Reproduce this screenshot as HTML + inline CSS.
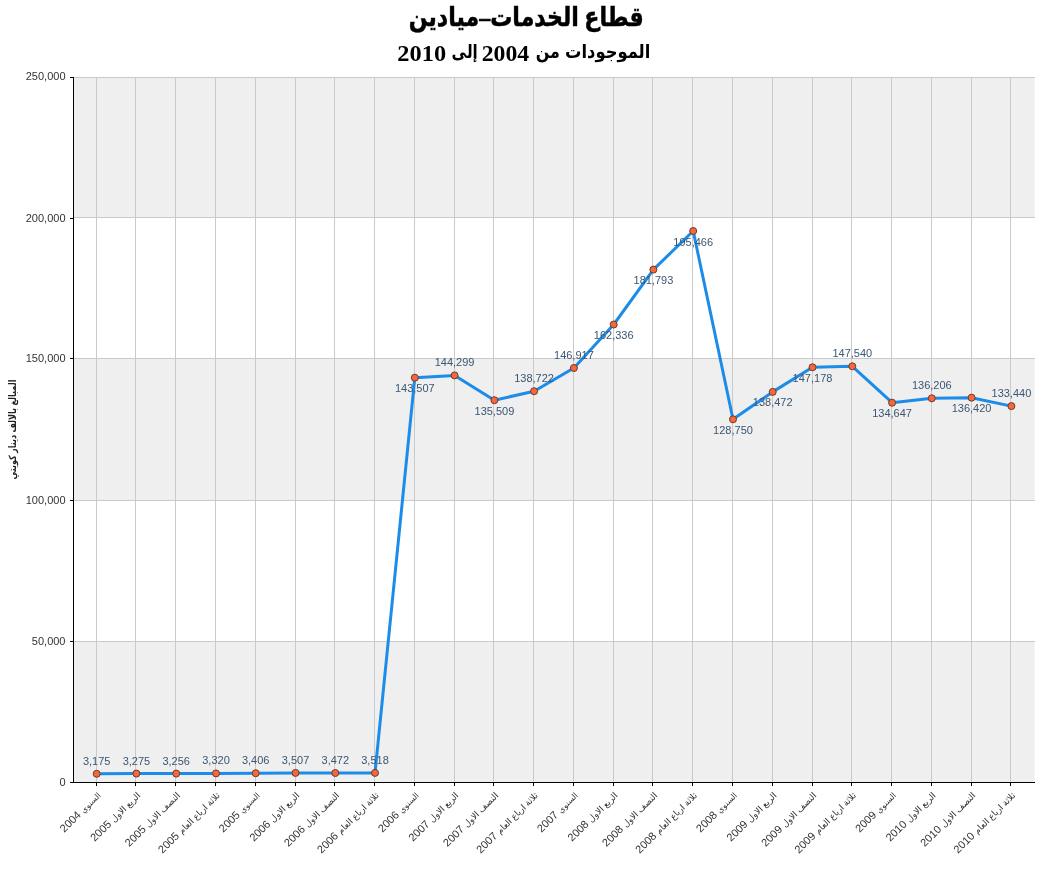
<!DOCTYPE html>
<html lang="ar"><head><meta charset="utf-8"><title>قطاع الخدمات–ميادين</title>
<style>
html,body{margin:0;padding:0;background:#fff;}
body{width:1047px;height:874px;overflow:hidden;}
svg{display:block;}
.ax{font-family:"Liberation Sans","DejaVu Sans",sans-serif;font-size:11px;fill:#333;}
.dl{font-family:"Liberation Sans","DejaVu Sans",sans-serif;font-size:11px;fill:#3b5672;text-anchor:middle;}
.cl{font-family:"Liberation Sans","DejaVu Sans",sans-serif;font-size:11px;fill:#333;text-anchor:end;}
.cl .ar{font-size:8.8px;}
.cl .s{font-size:8px;}
.t1{font-family:"Liberation Serif","DejaVu Sans",serif;font-weight:bold;font-size:29px;fill:#000;text-anchor:middle;stroke:#000;stroke-width:0.5px;}
.t2{font-family:"Liberation Serif","DejaVu Sans",serif;font-weight:bold;font-size:23px;fill:#000;text-anchor:middle;}
.yt{font-family:"Liberation Sans","DejaVu Sans",sans-serif;font-weight:bold;font-size:10px;fill:#222;text-anchor:middle;}
</style></head><body>
<svg width="1047" height="874" viewBox="0 0 1047 874">
<rect x="0" y="0" width="1047" height="874" fill="#fff"/>
<g>
<text class="t1" transform="translate(408.67,25.5) scale(0.834,1)" style="font-size:26.5px;text-anchor:start">قطاع الخدمات–ميادين</text>
</g>
<g>
<text class="t2" transform="translate(565.02,58.0) scale(0.860,1)" style="font-size:19px;text-anchor:start">الموجودات</text>
<text class="t2" transform="translate(535.75,58.0) scale(0.837,1)" style="font-size:19px;text-anchor:start">من</text>
<text class="t2" transform="translate(481.65,61.0) scale(0.990,1)" style="font-size:24px;text-anchor:start">2004</text>
<text class="t2" transform="translate(451.59,58.0) scale(0.798,1)" style="font-size:19px;text-anchor:start">إلى</text>
<text class="t2" transform="translate(397.32,61.0) scale(1.016,1)" style="font-size:24px;text-anchor:start">2010</text>
</g>
<rect x="74" y="77" width="960.5" height="140" fill="#efefef"/>
<rect x="74" y="358" width="960.5" height="142" fill="#efefef"/>
<rect x="74" y="641" width="960.5" height="141" fill="#efefef"/>
<g stroke="#cacaca" stroke-width="1" shape-rendering="crispEdges">
<line x1="74" y1="77.5" x2="1035" y2="77.5"/>
<line x1="74" y1="217.5" x2="1035" y2="217.5"/>
<line x1="74" y1="358.5" x2="1035" y2="358.5"/>
<line x1="74" y1="500.5" x2="1035" y2="500.5"/>
<line x1="74" y1="641.5" x2="1035" y2="641.5"/>
<line x1="96.5" y1="77" x2="96.5" y2="782"/>
<line x1="135.5" y1="77" x2="135.5" y2="782"/>
<line x1="175.5" y1="77" x2="175.5" y2="782"/>
<line x1="215.5" y1="77" x2="215.5" y2="782"/>
<line x1="255.5" y1="77" x2="255.5" y2="782"/>
<line x1="295.5" y1="77" x2="295.5" y2="782"/>
<line x1="334.5" y1="77" x2="334.5" y2="782"/>
<line x1="374.5" y1="77" x2="374.5" y2="782"/>
<line x1="414.5" y1="77" x2="414.5" y2="782"/>
<line x1="454.5" y1="77" x2="454.5" y2="782"/>
<line x1="493.5" y1="77" x2="493.5" y2="782"/>
<line x1="533.5" y1="77" x2="533.5" y2="782"/>
<line x1="573.5" y1="77" x2="573.5" y2="782"/>
<line x1="613.5" y1="77" x2="613.5" y2="782"/>
<line x1="652.5" y1="77" x2="652.5" y2="782"/>
<line x1="692.5" y1="77" x2="692.5" y2="782"/>
<line x1="732.5" y1="77" x2="732.5" y2="782"/>
<line x1="772.5" y1="77" x2="772.5" y2="782"/>
<line x1="812.5" y1="77" x2="812.5" y2="782"/>
<line x1="851.5" y1="77" x2="851.5" y2="782"/>
<line x1="891.5" y1="77" x2="891.5" y2="782"/>
<line x1="931.5" y1="77" x2="931.5" y2="782"/>
<line x1="971.5" y1="77" x2="971.5" y2="782"/>
<line x1="1010.5" y1="77" x2="1010.5" y2="782"/>
</g>
<g stroke="#000" stroke-width="1" shape-rendering="crispEdges">
<line x1="73.5" y1="77" x2="73.5" y2="783"/>
<line x1="70" y1="782.5" x2="1035" y2="782.5"/>
<line x1="70" y1="77.5" x2="74" y2="77.5"/>
<line x1="70" y1="218.5" x2="74" y2="218.5"/>
<line x1="70" y1="358.5" x2="74" y2="358.5"/>
<line x1="70" y1="500.5" x2="74" y2="500.5"/>
<line x1="70" y1="641.5" x2="74" y2="641.5"/>
<line x1="96.5" y1="783" x2="96.5" y2="786"/>
<line x1="135.5" y1="783" x2="135.5" y2="786"/>
<line x1="175.5" y1="783" x2="175.5" y2="786"/>
<line x1="215.5" y1="783" x2="215.5" y2="786"/>
<line x1="255.5" y1="783" x2="255.5" y2="786"/>
<line x1="295.5" y1="783" x2="295.5" y2="786"/>
<line x1="334.5" y1="783" x2="334.5" y2="786"/>
<line x1="374.5" y1="783" x2="374.5" y2="786"/>
<line x1="414.5" y1="783" x2="414.5" y2="786"/>
<line x1="454.5" y1="783" x2="454.5" y2="786"/>
<line x1="493.5" y1="783" x2="493.5" y2="786"/>
<line x1="533.5" y1="783" x2="533.5" y2="786"/>
<line x1="573.5" y1="783" x2="573.5" y2="786"/>
<line x1="613.5" y1="783" x2="613.5" y2="786"/>
<line x1="652.5" y1="783" x2="652.5" y2="786"/>
<line x1="692.5" y1="783" x2="692.5" y2="786"/>
<line x1="732.5" y1="783" x2="732.5" y2="786"/>
<line x1="772.5" y1="783" x2="772.5" y2="786"/>
<line x1="812.5" y1="783" x2="812.5" y2="786"/>
<line x1="851.5" y1="783" x2="851.5" y2="786"/>
<line x1="891.5" y1="783" x2="891.5" y2="786"/>
<line x1="931.5" y1="783" x2="931.5" y2="786"/>
<line x1="971.5" y1="783" x2="971.5" y2="786"/>
<line x1="1010.5" y1="783" x2="1010.5" y2="786"/>
</g>
<text class="ax" x="65.5" y="79.7" text-anchor="end">250,000</text>
<text class="ax" x="65.5" y="221.5" text-anchor="end">200,000</text>
<text class="ax" x="65.5" y="361.5" text-anchor="end">150,000</text>
<text class="ax" x="65.5" y="503.5" text-anchor="end">100,000</text>
<text class="ax" x="65.5" y="644.5" text-anchor="end">50,000</text>
<text class="ax" x="65.5" y="785.5" text-anchor="end">0</text>
<text class="yt" transform="translate(15.8,429.5) rotate(-90) scale(0.81,1)" direction="rtl">المبالغ بالالف دينار كويتي</text>
<polyline points="96.7,773.8 136.4,773.6 176.2,773.6 216.0,773.4 255.7,773.2 295.5,772.9 335.3,773.0 375.0,772.9 414.8,377.7 454.6,375.4 494.4,400.2 534.1,391.2 573.9,368.0 613.7,324.5 653.4,269.6 693.2,231.0 733.0,419.3 772.7,391.9 812.5,367.3 852.3,366.3 892.1,402.7 931.8,398.3 971.6,397.7 1011.4,406.1" fill="none" stroke="#1c8ce8" stroke-width="3" stroke-linejoin="round" stroke-linecap="round"/>
<g fill="#f4683c" stroke="#6e3a2a" stroke-width="1">
<circle cx="96.7" cy="773.8" r="3.5"/>
<circle cx="136.4" cy="773.6" r="3.5"/>
<circle cx="176.2" cy="773.6" r="3.5"/>
<circle cx="216.0" cy="773.4" r="3.5"/>
<circle cx="255.7" cy="773.2" r="3.5"/>
<circle cx="295.5" cy="772.9" r="3.5"/>
<circle cx="335.3" cy="773.0" r="3.5"/>
<circle cx="375.0" cy="772.9" r="3.5"/>
<circle cx="414.8" cy="377.7" r="3.5"/>
<circle cx="454.6" cy="375.4" r="3.5"/>
<circle cx="494.4" cy="400.2" r="3.5"/>
<circle cx="534.1" cy="391.2" r="3.5"/>
<circle cx="573.9" cy="368.0" r="3.5"/>
<circle cx="613.7" cy="324.5" r="3.5"/>
<circle cx="653.4" cy="269.6" r="3.5"/>
<circle cx="693.2" cy="231.0" r="3.5"/>
<circle cx="733.0" cy="419.3" r="3.5"/>
<circle cx="772.7" cy="391.9" r="3.5"/>
<circle cx="812.5" cy="367.3" r="3.5"/>
<circle cx="852.3" cy="366.3" r="3.5"/>
<circle cx="892.1" cy="402.7" r="3.5"/>
<circle cx="931.8" cy="398.3" r="3.5"/>
<circle cx="971.6" cy="397.7" r="3.5"/>
<circle cx="1011.4" cy="406.1" r="3.5"/>
</g>
<text class="dl" x="96.7" y="764.7">3,175</text>
<text class="dl" x="136.4" y="764.5">3,275</text>
<text class="dl" x="176.2" y="764.5">3,256</text>
<text class="dl" x="216.0" y="764.3">3,320</text>
<text class="dl" x="255.7" y="764.1">3,406</text>
<text class="dl" x="295.5" y="763.8">3,507</text>
<text class="dl" x="335.3" y="763.9">3,472</text>
<text class="dl" x="375.0" y="763.8">3,518</text>
<text class="dl" x="414.8" y="392.2">143,507</text>
<text class="dl" x="454.6" y="366.3">144,299</text>
<text class="dl" x="494.4" y="414.7">135,509</text>
<text class="dl" x="534.1" y="382.1">138,722</text>
<text class="dl" x="573.9" y="358.9">146,917</text>
<text class="dl" x="613.7" y="339.0">162,336</text>
<text class="dl" x="653.4" y="284.1">181,793</text>
<text class="dl" x="693.2" y="245.5">195,466</text>
<text class="dl" x="733.0" y="433.8">128,750</text>
<text class="dl" x="772.7" y="406.4">138,472</text>
<text class="dl" x="812.5" y="381.8">147,178</text>
<text class="dl" x="852.3" y="357.2">147,540</text>
<text class="dl" x="892.1" y="417.2">134,647</text>
<text class="dl" x="931.8" y="389.2">136,206</text>
<text class="dl" x="971.6" y="412.2">136,420</text>
<text class="dl" x="1011.4" y="397.0">133,440</text>
<text class="cl" transform="translate(101.2,796.0) rotate(-45)"><tspan class="ar s">السنوي</tspan> 2004</text>
<text class="cl" transform="translate(140.9,796.0) rotate(-45)"><tspan class="ar">الربع الاول</tspan> 2005</text>
<text class="cl" transform="translate(180.7,796.0) rotate(-45)"><tspan class="ar">النصف الاول</tspan> 2005</text>
<text class="cl" transform="translate(220.5,796.0) rotate(-45)"><tspan class="ar">ثلاثة ارباع العام</tspan> 2005</text>
<text class="cl" transform="translate(260.2,796.0) rotate(-45)"><tspan class="ar s">السنوي</tspan> 2005</text>
<text class="cl" transform="translate(300.0,796.0) rotate(-45)"><tspan class="ar">الربع الاول</tspan> 2006</text>
<text class="cl" transform="translate(339.8,796.0) rotate(-45)"><tspan class="ar">النصف الاول</tspan> 2006</text>
<text class="cl" transform="translate(379.5,796.0) rotate(-45)"><tspan class="ar">ثلاثة ارباع العام</tspan> 2006</text>
<text class="cl" transform="translate(419.3,796.0) rotate(-45)"><tspan class="ar s">السنوي</tspan> 2006</text>
<text class="cl" transform="translate(459.1,796.0) rotate(-45)"><tspan class="ar">الربع الاول</tspan> 2007</text>
<text class="cl" transform="translate(498.9,796.0) rotate(-45)"><tspan class="ar">النصف الاول</tspan> 2007</text>
<text class="cl" transform="translate(538.6,796.0) rotate(-45)"><tspan class="ar">ثلاثة ارباع العام</tspan> 2007</text>
<text class="cl" transform="translate(578.4,796.0) rotate(-45)"><tspan class="ar s">السنوي</tspan> 2007</text>
<text class="cl" transform="translate(618.2,796.0) rotate(-45)"><tspan class="ar">الربع الاول</tspan> 2008</text>
<text class="cl" transform="translate(657.9,796.0) rotate(-45)"><tspan class="ar">النصف الاول</tspan> 2008</text>
<text class="cl" transform="translate(697.7,796.0) rotate(-45)"><tspan class="ar">ثلاثة ارباع العام</tspan> 2008</text>
<text class="cl" transform="translate(737.5,796.0) rotate(-45)"><tspan class="ar s">السنوي</tspan> 2008</text>
<text class="cl" transform="translate(777.2,796.0) rotate(-45)"><tspan class="ar">الربع الاول</tspan> 2009</text>
<text class="cl" transform="translate(817.0,796.0) rotate(-45)"><tspan class="ar">النصف الاول</tspan> 2009</text>
<text class="cl" transform="translate(856.8,796.0) rotate(-45)"><tspan class="ar">ثلاثة ارباع العام</tspan> 2009</text>
<text class="cl" transform="translate(896.6,796.0) rotate(-45)"><tspan class="ar s">السنوي</tspan> 2009</text>
<text class="cl" transform="translate(936.3,796.0) rotate(-45)"><tspan class="ar">الربع الاول</tspan> 2010</text>
<text class="cl" transform="translate(976.1,796.0) rotate(-45)"><tspan class="ar">النصف الاول</tspan> 2010</text>
<text class="cl" transform="translate(1015.9,796.0) rotate(-45)"><tspan class="ar">ثلاثة ارباع العام</tspan> 2010</text>
</svg>
</body></html>
